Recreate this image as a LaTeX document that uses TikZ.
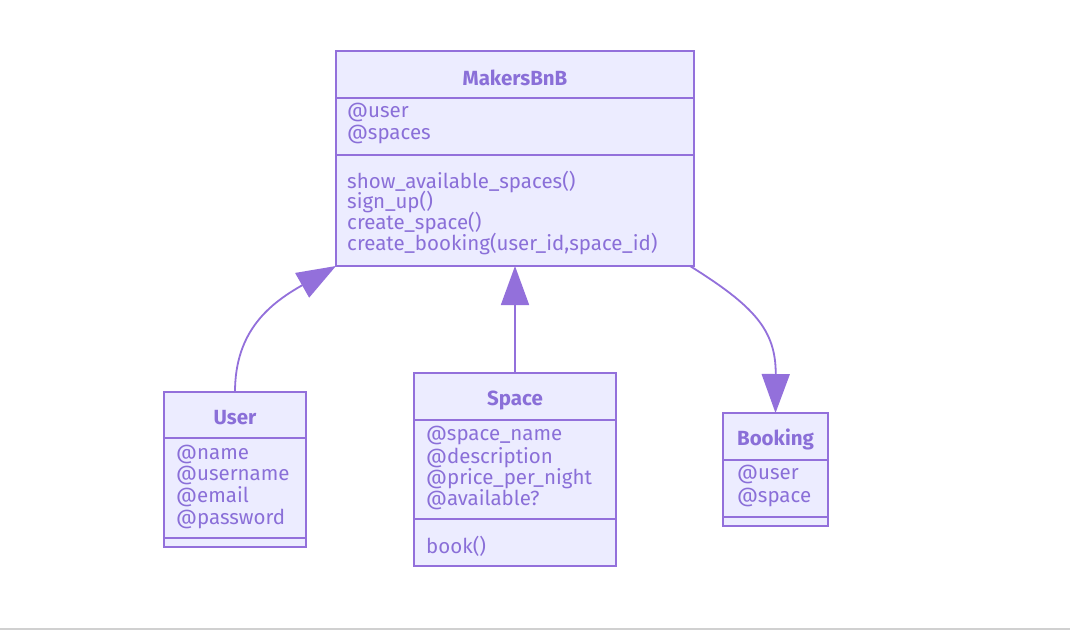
\documentclass[tikz,border=0pt]{standalone}
\usepackage{fontspec}
\setmainfont{Fira Sans}
\usetikzlibrary{arrows.meta}
\definecolor{mfill}{HTML}{ECECFF}
\definecolor{mline}{HTML}{9370DB}
\definecolor{mtext}{HTML}{8A6FD8}
\definecolor{sep}{HTML}{D0D0D0}
\begin{document}
\begin{tikzpicture}[x=1pt,y=-1pt,
  box/.style={draw=mline,fill=mfill,line width=1.8pt,inner sep=0pt,outer sep=0pt},
  divider/.style={draw=mline,line width=1.8pt},
  title/.style={text=mtext,font=\fontsize{20.5}{24}\selectfont\bfseries,inner sep=0pt,anchor=center,yshift=-1.5pt},
  member/.style={text=mtext,font=\fontsize{20.5}{24}\selectfont,inner sep=0pt,anchor=west,yshift=-1.5pt},
  rel/.style={draw=mline,line width=1.8pt,-{Triangle[length=39pt,width=28pt]}}]
\useasboundingbox (0,0) rectangle (1070,630);
\fill[white] (0,0) rectangle (1070,630);
\fill[sep] (0,627.5) rectangle (1070,630);

% MakersBnB
\node[box,minimum width=358pt,minimum height=215pt] (mk) at (515,158.5) {};
\draw[divider] (336,98) -- (694,98);
\draw[divider] (336,155) -- (694,155);
\node[title] (mkt) at (515,76) {MakersBnB};
\node[member] (mka1) at (347,111) {@user};
\node[member] (mka2) at (347,133) {@spaces};
\node[member] (mkm1) at (347,181) {show\_available\_spaces()};
\node[member] (mkm2) at (347,201) {sign\_up()};
\node[member] (mkm3) at (347,222) {create\_space()};
\node[member] (mkm4) at (347,243) {create\_booking(user\_id,space\_id)};

% User
\node[box,minimum width=142pt,minimum height=155pt] (user) at (235,469.5) {};
\draw[divider] (164,438) -- (306,438);
\draw[divider] (164,538) -- (306,538);
\node[title] (usert) at (235,416) {User};
\node[member] (usera1) at (176,453) {@name};
\node[member] (usera2) at (176,474) {@username};
\node[member] (usera3) at (176,495) {@email};
\node[member] (usera4) at (176,517) {@password};

% Space
\node[box,minimum width=202pt,minimum height=193pt] (space) at (515,469.5) {};
\draw[divider] (414,420) -- (616,420);
\draw[divider] (414,519) -- (616,519);
\node[title] (spacet) at (515,399) {Space};
\node[member] (spacea1) at (426,434) {@space\_name};
\node[member] (spacea2) at (426,456) {@description};
\node[member] (spacea3) at (426,477) {@price\_per\_night};
\node[member] (spacea4) at (426,498) {@available?};
\node[member] (spacem1) at (426,545) {book()};

% Booking
\node[box,minimum width=105pt,minimum height=113pt] (booking) at (775.5,469.5) {};
\draw[divider] (723,460) -- (828,460);
\draw[divider] (723,517) -- (828,517);
\node[title] (bookingt) at (775.5,438) {Booking};
\node[member] (bookinga1) at (737,473) {@user};
\node[member] (bookinga2) at (737,496) {@space};

% relations
\draw[rel] (user.north) .. controls (235,330) and (271,303) .. (mk.south west);
\draw[rel] (space.north) -- (space.north |- mk.south);
\draw[rel] ([xshift=-4pt]mk.south east) .. controls (754,306) and (776,330) .. (booking.north);
\end{tikzpicture}
\end{document}
